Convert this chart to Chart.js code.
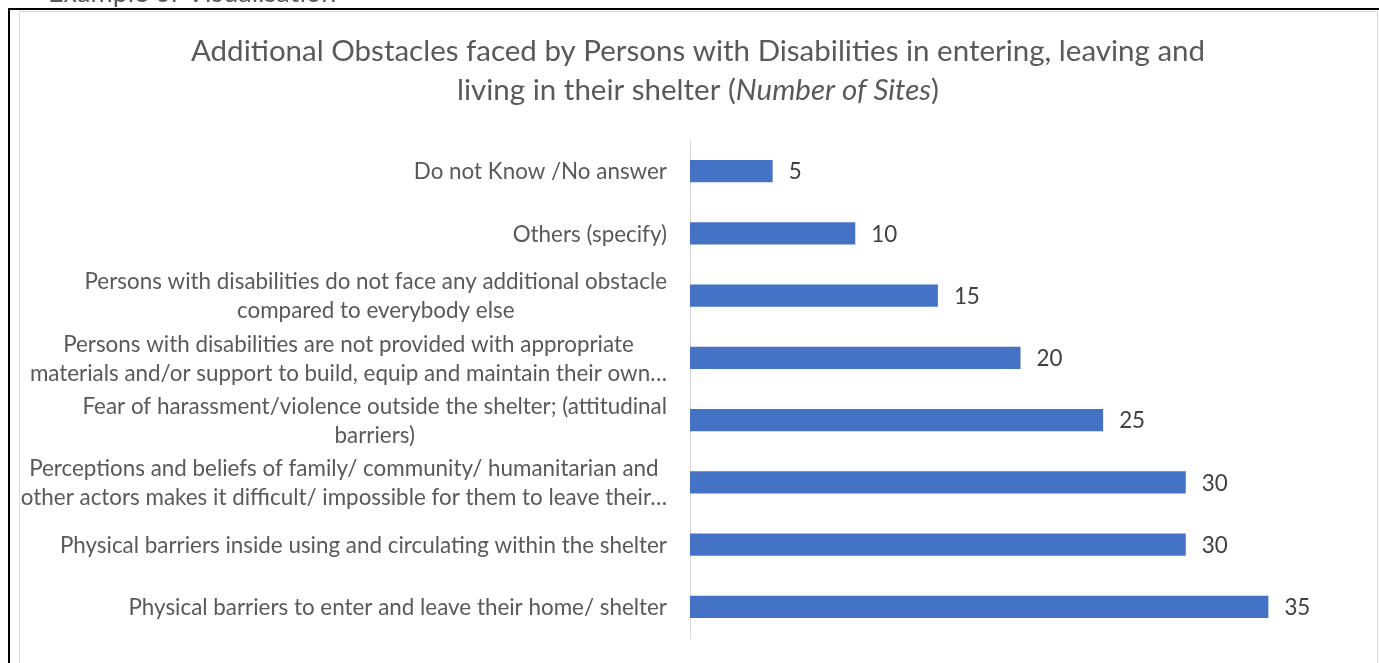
<!DOCTYPE html>
<html>
<head>
<meta charset="utf-8">
<script src="https://cdn.jsdelivr.net/npm/chart.js@4/dist/chart.umd.min.js"></script>
<style>
  html, body { margin: 0; padding: 0; background: #fff; overflow: hidden; }
  #wrap { position: absolute; left: 0; top: 0; width: 1379px; height: 663px; }
</style>
</head>
<body>
<div id="wrap"><canvas id="obstacles"></canvas></div>
<script>
const categories = [
  ['Do not Know /No answer'],
  ['Others (specify)'],
  ['Persons with disabilities do not face any additional obstacle', 'compared to everybody else'],
  ['Persons with disabilities are not provided with appropriate', 'materials and/or support to build, equip and maintain their own…'],
  ['Fear of harassment/violence outside the shelter; (attitudinal', 'barriers)'],
  ['Perceptions and beliefs of family/ community/ humanitarian and', 'other actors makes it difficult/ impossible for them to leave their…'],
  ['Physical barriers inside using and circulating within the shelter'],
  ['Physical barriers to enter and leave their home/ shelter']
];
const sites = [5, 10, 15, 20, 25, 30, 30, 35];
const titleLines = [
  [{ text: 'Additional Obstacles faced by Persons with Disabilities in entering, leaving and', italic: false }],
  [{ text: 'living in their shelter (', italic: false }, { text: 'Number of Sites', italic: true }, { text: ')', italic: false }]
];
const caption = 'Example of Visualisation';

const FONT = 'Lato, "Open Sans", sans-serif';
const TEXT = '#595959';

// frame, page caption and the two-line title with the italic unit
const decor = {
  id: 'decor',
  beforeDraw(chart) {
    const ctx = chart.ctx;
    ctx.save();
    ctx.fillStyle = TEXT;
    ctx.font = '27px ' + FONT;
    ctx.textAlign = 'left';
    ctx.textBaseline = 'alphabetic';
    ctx.fillText(caption, 48, 2);

    ctx.strokeStyle = '#d9d9d9';
    ctx.lineWidth = 1;
    ctx.strokeRect(19.5, 11.5, 1358, 700);

    ctx.strokeStyle = '#000';
    ctx.lineWidth = 2;
    ctx.beginPath();
    ctx.moveTo(9, 700);
    ctx.lineTo(9, 9);
    ctx.lineTo(1379, 9);
    ctx.stroke();

    const cx = 698;
    const ys = [51, 90];
    const size = '29.5px ';
    titleLines.forEach((parts, i) => {
      let w = 0;
      parts.forEach(p => {
        ctx.font = (p.italic ? 'italic ' : '') + size + FONT;
        p.w = ctx.measureText(p.text).width;
        w += p.w;
      });
      let x = cx - w / 2;
      ctx.textBaseline = 'middle';
      parts.forEach(p => {
        ctx.font = (p.italic ? 'italic ' : '') + size + FONT;
        ctx.fillText(p.text, x, ys[i]);
        x += p.w;
      });
    });
    ctx.restore();
  }
};

// category labels: right-aligned blocks with centred lines, plus value labels
const labels = {
  id: 'labels',
  afterDatasetsDraw(chart) {
    const ctx = chart.ctx;
    const yScale = chart.scales.y;
    const meta = chart.getDatasetMeta(0);
    ctx.save();
    ctx.font = '22.4px ' + FONT;
    ctx.fillStyle = TEXT;
    ctx.textBaseline = 'middle';
    ctx.textAlign = 'center';
    const right = chart.chartArea.left - 23;
    const lineH = 29;
    categories.forEach((lines, i) => {
      const cy = yScale.getPixelForValue(i) + 1;
      const bw = Math.max(...lines.map(l => ctx.measureText(l).width));
      const x = right - bw / 2;
      const y0 = cy - (lines.length - 1) * lineH / 2;
      lines.forEach((l, j) => ctx.fillText(l, x, y0 + j * lineH));
    });

    ctx.fillStyle = '#404040';
    ctx.textAlign = 'left';
    meta.data.forEach((bar, i) => {
      ctx.fillText(String(sites[i]), bar.x + 16, bar.y + 1);
    });
    ctx.restore();
  }
};

new Chart(document.getElementById('obstacles'), {
  type: 'bar',
  data: {
    labels: categories,
    datasets: [{
      data: sites,
      backgroundColor: '#4472c4',
      borderWidth: 0,
      categoryPercentage: 1,
      barPercentage: 0.355
    }]
  },
  options: {
    indexAxis: 'y',
    responsive: true,
    maintainAspectRatio: false,
    animation: false,
    layout: { padding: { left: 682, top: 140, right: 28, bottom: 25 } },
    plugins: { legend: { display: false }, tooltip: { enabled: false } },
    scales: {
      x: { display: false, min: 0, max: 40 },
      y: {
        grid: { display: false },
        ticks: { display: false },
        border: { display: true, color: '#d9d9d9', width: 1 }
      }
    }
  },
  plugins: [decor, labels]
});
</script>
</body>
</html>
